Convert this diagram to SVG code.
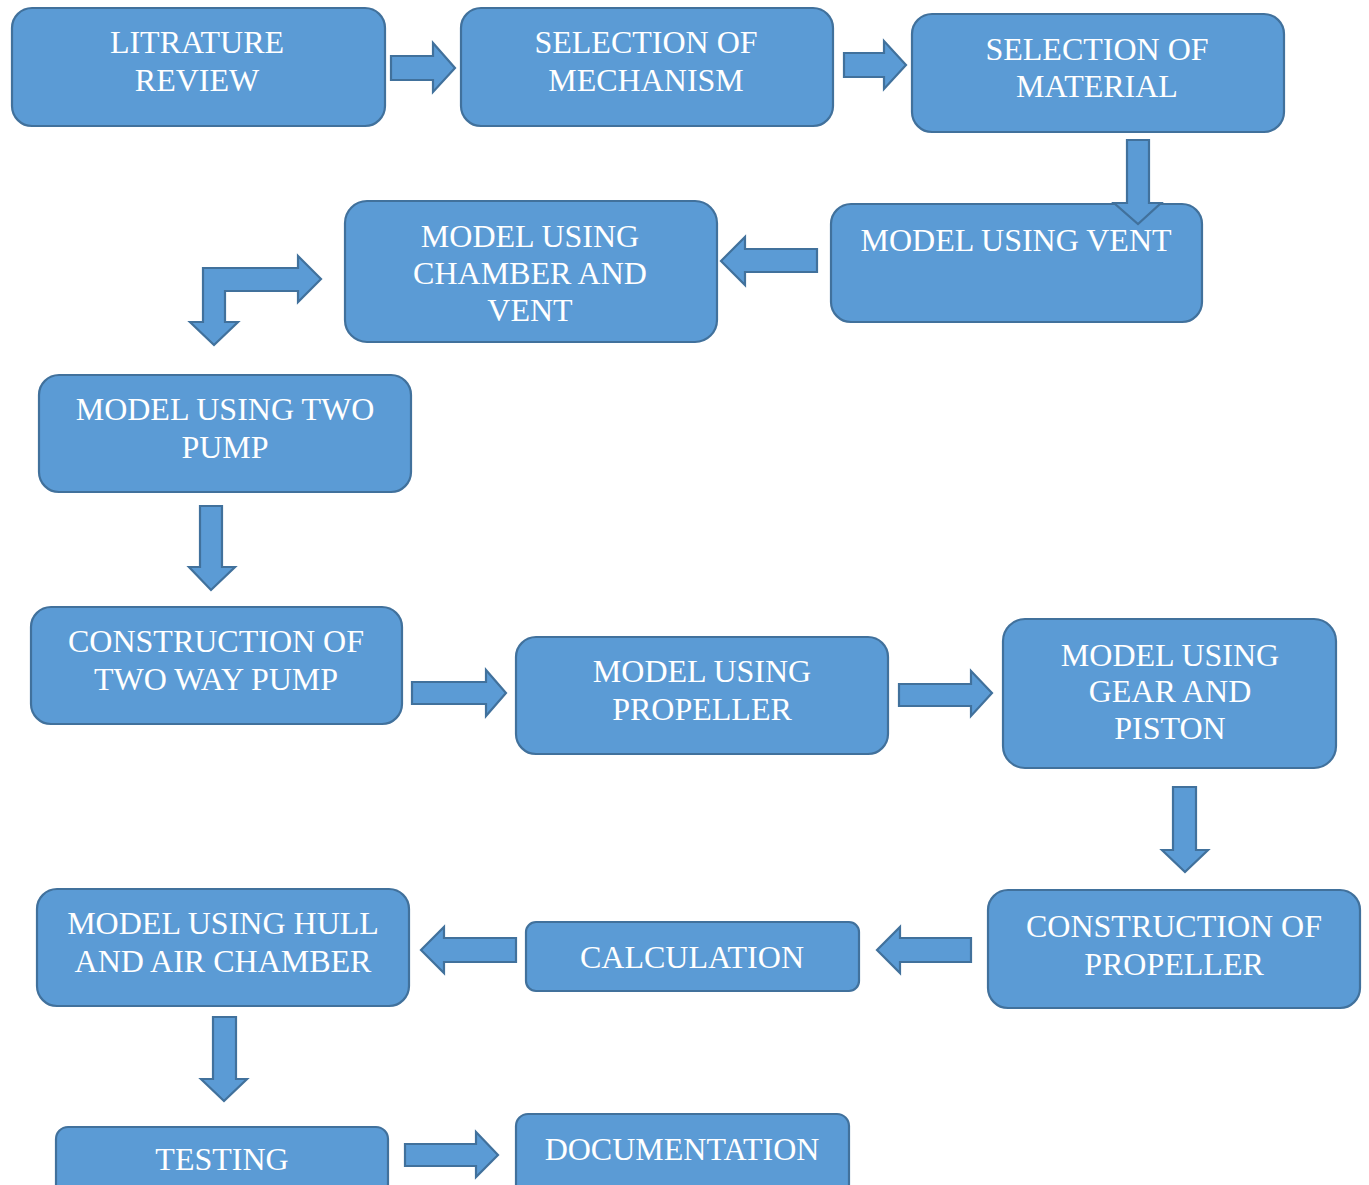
<svg xmlns="http://www.w3.org/2000/svg" width="1369" height="1185" viewBox="0 0 1369 1185">
<style>
.box{fill:#5b9bd5;stroke:#41719c;stroke-width:2.2}
.arr{fill:#5b9bd5;stroke:#41719c;stroke-width:2.2;stroke-linejoin:miter}
.t{font-size:32px;fill:#ffffff;text-anchor:middle}
</style>
<rect width="1369" height="1185" fill="#ffffff"/>
<g font-family="'Liberation Serif', 'Times New Roman', serif">
<g id="n1"><rect class="box" x="12" y="8" width="373" height="118" rx="20"/><text class="t" x="197" y="53">LITRATURE</text><text class="t" x="197" y="91">REVIEW</text></g>
<g id="n2"><rect class="box" x="461" y="8" width="372" height="118" rx="20"/><text class="t" x="646" y="53">SELECTION OF</text><text class="t" x="646" y="91">MECHANISM</text></g>
<g id="n3"><rect class="box" x="912" y="14" width="372" height="118" rx="20"/><text class="t" x="1097" y="60">SELECTION OF</text><text class="t" x="1097" y="97">MATERIAL</text></g>
<g id="n4"><rect class="box" x="831" y="204" width="371" height="118" rx="20"/><text class="t" x="1016" y="251">MODEL USING VENT</text></g>
<g id="n5"><rect class="box" x="345" y="201" width="372" height="141" rx="22"/><text class="t" x="530" y="247">MODEL USING</text><text class="t" x="530" y="284">CHAMBER AND</text><text class="t" x="530" y="321">VENT</text></g>
<g id="n6"><rect class="box" x="39" y="375" width="372" height="117" rx="20"/><text class="t" x="225" y="420">MODEL USING TWO</text><text class="t" x="225" y="458">PUMP</text></g>
<g id="n7"><rect class="box" x="31" y="607" width="371" height="117" rx="20"/><text class="t" x="216" y="652">CONSTRUCTION OF</text><text class="t" x="216" y="690">TWO WAY PUMP</text></g>
<g id="n8"><rect class="box" x="516" y="637" width="372" height="117" rx="20"/><text class="t" x="702" y="682">MODEL USING</text><text class="t" x="702" y="720">PROPELLER</text></g>
<g id="n9"><rect class="box" x="1003" y="619" width="333" height="149" rx="22"/><text class="t" x="1170" y="666">MODEL USING</text><text class="t" x="1170" y="702">GEAR AND</text><text class="t" x="1170" y="739">PISTON</text></g>
<g id="n10"><rect class="box" x="988" y="890" width="372" height="118" rx="20"/><text class="t" x="1174" y="937">CONSTRUCTION OF</text><text class="t" x="1174" y="975">PROPELLER</text></g>
<g id="n11"><rect class="box" x="526" y="922" width="333" height="69" rx="10"/><text class="t" x="692" y="968">CALCULATION</text></g>
<g id="n12"><rect class="box" x="37" y="889" width="372" height="117" rx="20"/><text class="t" x="223" y="934">MODEL USING HULL</text><text class="t" x="223" y="972">AND AIR CHAMBER</text></g>
<g id="n13"><rect class="box" x="56" y="1127" width="332" height="90" rx="12"/><text class="t" x="222" y="1170">TESTING</text></g>
<g id="n14"><rect class="box" x="516" y="1114" width="333" height="100" rx="12"/><text class="t" x="682" y="1160">DOCUMENTATION</text></g>
</g>
<g id="connectors">
<polygon class="arr" points="391,56 433,56 433,43 455,68 433,92 433,80 391,80"/>
<polygon class="arr" points="844,53 884,53 884,41 906,65 884,89 884,77 844,77"/>
<polygon class="arr" points="1127,140 1149,140 1149,203 1161,203 1138,224 1114,203 1127,203"/>
<polygon class="arr" points="817,249 745,249 745,237 721,261 745,285 745,272 817,272"/>
<polygon class="arr" points="203,322 190,322 214,345 238,322 225,322 225,291 298,291 298,302 321,279 298,256 298,268 203,268"/>
<polygon class="arr" points="200,506 222,506 222,567 235,567 211,590 189,567 200,567"/>
<polygon class="arr" points="412,682 486,682 486,670 506,693 486,716 486,704 412,704"/>
<polygon class="arr" points="899,684 971,684 971,671 992,693 971,716 971,706 899,706"/>
<polygon class="arr" points="1173,787 1196,787 1196,850 1208,850 1185,872 1162,850 1173,850"/>
<polygon class="arr" points="971,938 900,938 900,927 877,950 900,973 900,962 971,962"/>
<polygon class="arr" points="516,938 444,938 444,927 421,950 444,973 444,962 516,962"/>
<polygon class="arr" points="213,1017 236,1017 236,1079 247,1079 224,1101 201,1079 213,1079"/>
<polygon class="arr" points="405,1144 476,1144 476,1132 498,1155 476,1177 476,1166 405,1166"/>
</g>
</svg>
